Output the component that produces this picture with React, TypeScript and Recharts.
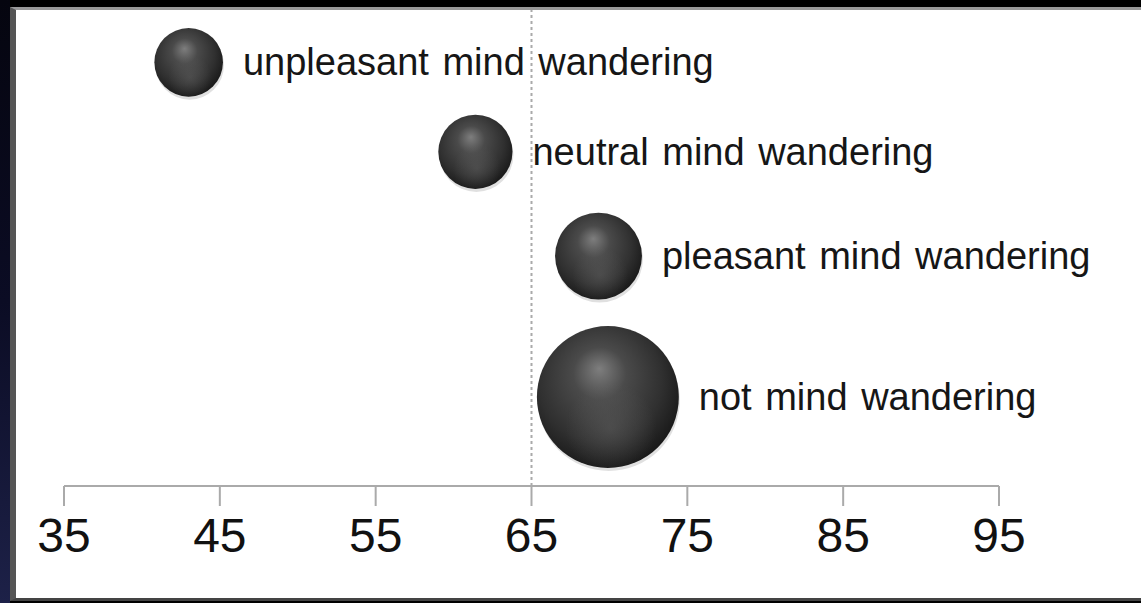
import React from "react";
import { ScatterChart, Scatter, XAxis, YAxis, ZAxis, ReferenceLine } from "recharts";

const categories = [
  "unpleasant mind wandering",
  "neutral mind wandering",
  "pleasant mind wandering",
  "not mind wandering",
];
const happiness = [43.0, 61.4, 69.3, 69.9];
const frequency = [12.4, 14.5, 19.9, 53.1];
const rowPosition = [8.9, 7.02, 4.83, 1.87];
const xTicks = [35, 45, 55, 65, 75, 85, 95];

const data = categories.map((name, i) => ({
  name,
  x: happiness[i],
  y: rowPosition[i],
  z: frequency[i],
}));

const Bubble = (props: any) => {
  const { cx, cy, width, payload } = props;
  const r = width / 2;
  return (
    <g>
      <ellipse cx={cx + 1} cy={cy + 3} rx={r} ry={r} fill="rgba(0,0,0,0.12)" />
      <circle cx={cx} cy={cy} r={r} fill="url(#sphereGrad)" />
      <circle cx={cx} cy={cy} r={r} fill="url(#sphereLow)" />
      <text
        x={cx + r + 20}
        y={cy}
        dominantBaseline="central"
        fontSize={38}
        fill="#161616"
        wordSpacing={3}
        fontFamily="'Liberation Sans', Arial, sans-serif"
      >
        {payload.name}
      </text>
    </g>
  );
};

export default function App() {
  return (
    <div
      style={{
        position: "fixed",
        left: 0,
        top: 0,
        width: 1141,
        height: 603,
        background: "#000",
        overflow: "hidden",
      }}
    >
      <div
        style={{
          position: "absolute",
          left: 0,
          top: 0,
          width: 10,
          height: 603,
          background: "linear-gradient(180deg, #05050f 0%, #0b0c24 50%, #1d2148 100%)",
        }}
      />
      <div
        style={{
          position: "absolute",
          left: 10,
          top: 7,
          width: 1131,
          height: 594,
          background: "#fff",
          boxSizing: "border-box",
          borderLeft: "6px solid #555",
          borderTop: "3px solid #999",
          borderBottom: "3px solid #444",
        }}
      />
      <div style={{ position: "absolute", left: 0, top: 0 }}>
        <ScatterChart
          width={1141}
          height={603}
          margin={{ top: 10, right: 142, bottom: 37, left: 64 }}
        >
          <defs>
            <radialGradient id="sphereGrad" cx="0.45" cy="0.42" r="0.62" fx="0.44" fy="0.3">
              <stop offset="0%" stopColor="#7e7e7e" />
              <stop offset="30%" stopColor="#4a4a4a" />
              <stop offset="70%" stopColor="#303030" />
              <stop offset="100%" stopColor="#161616" />
            </radialGradient>
            <radialGradient id="sphereLow" cx="0.52" cy="0.72" r="0.32">
              <stop offset="0%" stopColor="#6a6a6a" stopOpacity={0.4} />
              <stop offset="100%" stopColor="#6a6a6a" stopOpacity={0} />
            </radialGradient>
          </defs>
          <XAxis
            type="number"
            dataKey="x"
            domain={[35, 95]}
            ticks={xTicks}
            height={80}
            tickSize={20}
            tickMargin={12}
            stroke="#aaa"
            strokeWidth={2}
            tick={{ fill: "#111", fontSize: 48, fontFamily: "'Liberation Sans', Arial, sans-serif" }}
          />
          <YAxis type="number" dataKey="y" domain={[0, 10]} hide />
          <ZAxis type="number" dataKey="z" domain={[0, 100]} range={[0, 29800]} />
          <ReferenceLine x={65} stroke="#aaa" strokeWidth={2} strokeDasharray="3 3" />
          <Scatter data={data} shape={<Bubble />} isAnimationActive={false} />
        </ScatterChart>
      </div>
    </div>
  );
}
